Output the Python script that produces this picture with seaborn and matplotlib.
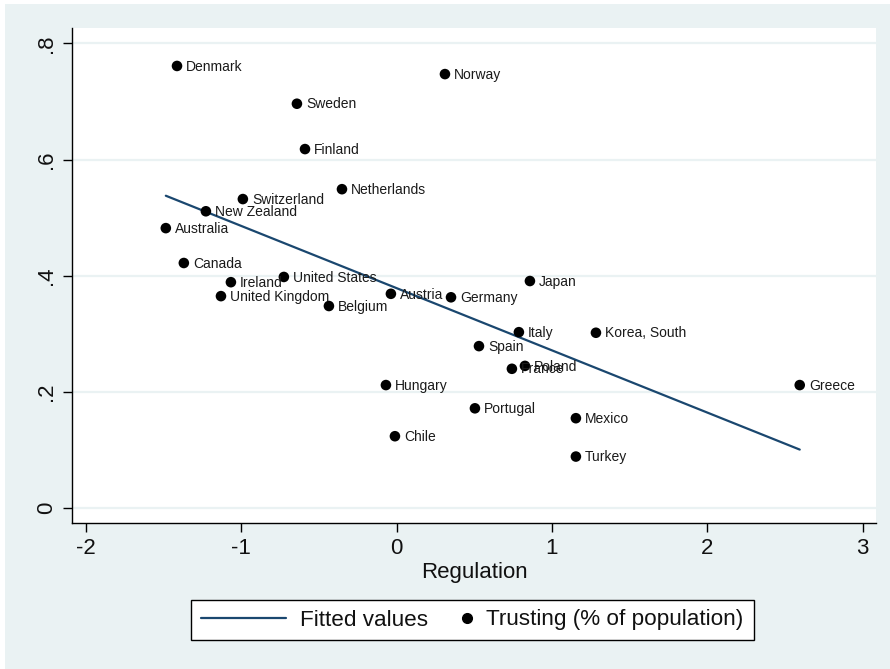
import numpy as np
import pandas as pd
import matplotlib
matplotlib.use("Agg")
import matplotlib.pyplot as plt
import seaborn as sns
from matplotlib.lines import Line2D
from matplotlib.legend_handler import HandlerLine2D
from matplotlib.patches import Rectangle

countries = [
    "Denmark", "Norway", "Sweden", "Finland", "Netherlands", "Switzerland",
    "New Zealand", "Australia", "Canada", "Ireland", "United States",
    "United Kingdom", "Belgium", "Austria", "Germany", "Japan", "Italy",
    "Korea, South", "Spain", "Poland", "France", "Hungary", "Greece",
    "Portugal", "Mexico", "Chile", "Turkey",
]
regulation = [
    -1.414, 0.311, -0.642, -0.590, -0.352, -0.990,
    -1.228, -1.486, -1.370, -1.067, -0.726,
    -1.131, -0.436, -0.037, 0.350, 0.858, 0.787,
    1.283, 0.530, 0.826, 0.742, -0.069, 2.595,
    0.504, 1.154, -0.011, 1.154,
]
trusting = [
    0.761, 0.747, 0.696, 0.618, 0.549, 0.532,
    0.511, 0.482, 0.422, 0.389, 0.398,
    0.365, 0.348, 0.369, 0.363, 0.391, 0.303,
    0.302, 0.279, 0.245, 0.240, 0.212, 0.212,
    0.172, 0.155, 0.124, 0.089,
]

x_ticks = [-2, -1, 0, 1, 2, 3]
y_ticks = [0, 0.2, 0.4, 0.6, 0.8]
y_tick_labels = ["0", ".2", ".4", ".6", ".8"]

BG = "#EAF2F3"
NAVY = "#1A476F"

df = pd.DataFrame({"country": countries, "regulation": regulation, "trusting": trusting})

sns.set_theme(style="white")
plt.rcParams["font.family"] = ["Liberation Sans", "DejaVu Sans"]

fig = plt.figure(figsize=(8.9, 6.69), dpi=100, facecolor="white")
fig.patches.append(Rectangle((5 / 890, 0), 1, 1 - 4 / 669, transform=fig.transFigure,
                             facecolor=BG, edgecolor="none", zorder=-10))
ax = fig.add_axes([72 / 890, 1 - 523 / 669, 804 / 890, 495 / 669])
ax.set_facecolor("white")

for yv in y_ticks:
    ax.axhline(yv, color=BG, lw=1.6, zorder=0)

sns.regplot(data=df, x="regulation", y="trusting", scatter=False, ci=None,
            truncate=True, line_kws=dict(color=NAVY, lw=1.6), ax=ax)
sns.scatterplot(data=df, x="regulation", y="trusting", color="black", s=58,
                edgecolor="none", ax=ax, zorder=3, legend=False)

for name, xv, yv in zip(countries, regulation, trusting):
    ax.annotate(name, (xv, yv), xytext=(6.5, -0.5), textcoords="offset points",
                va="center", ha="left", fontsize=10, color="#1a1a1a", zorder=4)

ax.set_xlim(-2.090, 3.086)
ax.set_ylim(-0.0253, 0.8263)
ax.set_xticks(x_ticks)
ax.set_xticklabels([str(t) for t in x_ticks])
ax.set_yticks(y_ticks)
ax.set_yticklabels(y_tick_labels, rotation=90, va="center")
ax.set_xlabel("Regulation", fontsize=16, labelpad=2, color="#111111")
ax.set_ylabel("")

sns.despine(ax=ax)
for side in ["left", "bottom"]:
    ax.spines[side].set_color("black")
    ax.spines[side].set_linewidth(1)
ax.tick_params(axis="both", direction="out", length=6.5, width=1, color="black",
               labelsize=16, pad=4.5, left=True, bottom=True, labelcolor="#111111")


class RightMarkerHandler(HandlerLine2D):
    def get_xdata(self, legend, xdescent, ydescent, width, height, fontsize):
        xm = width - xdescent - 0.25 * fontsize
        return np.array([xm]), np.array([xm])


handles = [
    Line2D([], [], color=NAVY, lw=1.6),
    Line2D([], [], ls="none", marker="o", color="black", markersize=7),
]
leg = fig.legend(handles, ["Fitted values", "Trusting (% of population)"],
                 loc="center", bbox_to_anchor=(472.5 / 890, 1 - 620 / 669),
                 ncol=2, fontsize=16.2, frameon=True, fancybox=False,
                 edgecolor="black", facecolor="white", framealpha=1,
                 handlelength=3.78, handletextpad=0.62, columnspacing=-1.82,
                 borderpad=0.44, handler_map={handles[1]: RightMarkerHandler()})
leg.get_frame().set_linewidth(1)
for t in leg.get_texts():
    t.set_color("#111111")

fig.savefig("out.png", dpi=100, facecolor=fig.get_facecolor())
